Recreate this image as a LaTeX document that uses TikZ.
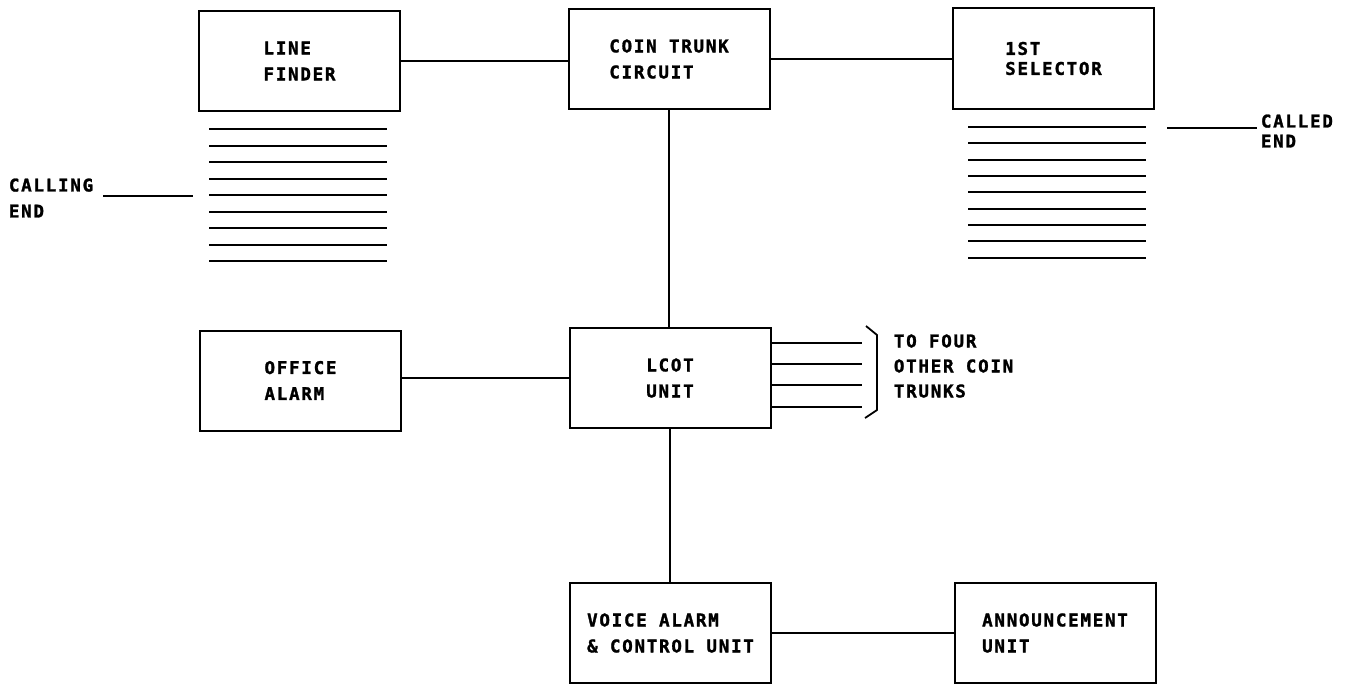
\documentclass[tikz,border=0pt]{standalone}
\usepackage{fontspec}
\newfontfamily\plotfont[LetterSpace=10,BoldFeatures={FakeBold=1.5}]{DejaVu Sans Mono}
\usetikzlibrary{calc}

\tikzset{
  blk/.style={draw, line width=2pt, minimum width=201pt, minimum height=100pt,
    inner sep=0pt, align=left,
    font={\plotfont\bfseries\fontsize{17.5}{26}\selectfont}},
  lbl/.style={anchor=west, inner sep=0pt, align=left,
    font={\plotfont\bfseries\fontsize{17.5}{26}\selectfont}}
}

\begin{document}
\begin{tikzpicture}[x=1pt, y=-1pt, line width=1.8pt]
  \useasboundingbox (0,0) rectangle (1348,685);

  % blocks
  \node[blk] (lf)   at (299.5,61)   {LINE\\FINDER};
  \node[blk] (ctc)  at (669,59)     {COIN TRUNK\\CIRCUIT};
  \node[blk] (sel)  at (1053.5,58.5) {1ST\\[-6pt]SELECTOR};
  \node[blk] (oa)   at (300.5,380.5) {OFFICE\\ALARM};
  \node[blk] (lcot) at (670,378)    {LCOT\\UNIT};
  \node[blk] (vac)  at (670.5,633)  {VOICE ALARM\\\& CONTROL UNIT};
  \node[blk] (ann)  at (1055,633)   {ANNOUNCEMENT\\UNIT};

  % links between blocks
  \draw (lf.east) -- (lf.east -| ctc.west);
  \draw (ctc.east) -- (ctc.east -| sel.west);
  \draw (ctc.south) -- (ctc.south |- lcot.north);
  \draw (lcot.west -| oa.east) -- (lcot.west);
  \draw (lcot.south) -- (lcot.south |- vac.north);
  \draw (vac.east) -- (ann.west);

  % banks of lines
  \foreach \y in {129,146,162,179,195,212,228,245,261}
    \draw (209,\y) -- (387,\y);
  \foreach \y in {127,143,160,176,192,209,225,241,258}
    \draw (968,\y) -- (1146,\y);

  % calling and called ends
  \node[lbl] (calling) at (8,198) {CALLING\\END};
  \coordinate (cg1) at (103,196);
  \coordinate (cg2) at (193,196);
  \draw (cg1) -- (cg2);

  \node[lbl] (called) at (1260,131) {CALLED\\[-6pt]END};
  \coordinate (cd1) at (1167,128);
  \coordinate (cd2) at (1257,128);
  \draw (cd1) -- (cd2);

  % other coin trunks
  \foreach \dy in {-35,-14,7,29}
    \draw ($(lcot.east)+(0,\dy)$) -- ++(90,0);
  \draw[line join=round] (866,326) -- (877,335) -- (877,410) -- (865,418);
  \node[lbl] (trk) at (893,366) {TO FOUR\\[-1pt]OTHER COIN\\[-1pt]TRUNKS};
\end{tikzpicture}
\end{document}
